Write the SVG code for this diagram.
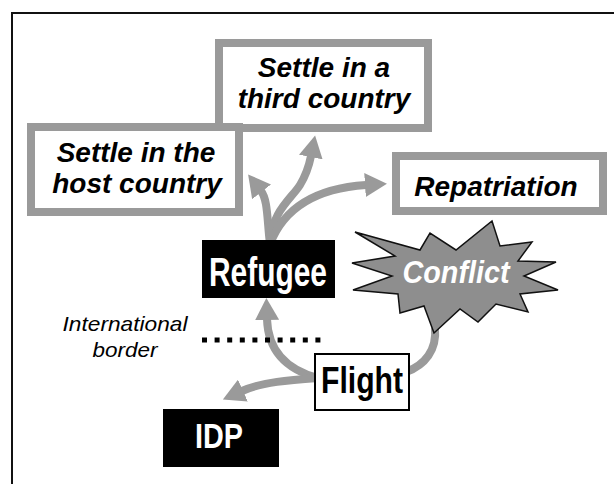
<svg xmlns="http://www.w3.org/2000/svg" width="614" height="484" viewBox="0 0 614 484">
<style>
.gbox{fill:#fff;stroke:#9a9a9a;stroke-width:8}
.bbox{fill:#000}
.lbl{font-family:"Liberation Sans",Arial,sans-serif;font-weight:bold;font-style:italic;font-size:28px;fill:#000;text-anchor:middle}
.cond{font-family:"Liberation Sans",Arial,sans-serif;font-weight:bold;text-anchor:middle}
.conn{fill:none;stroke:#9a9a9a;stroke-width:8}
</style>
<defs>
<marker id="ah" markerUnits="userSpaceOnUse" viewBox="0 0 22 24" markerWidth="22" markerHeight="24" refX="1" refY="12" orient="auto">
<path d="M0,0 L22,12 L0,24 z" fill="#9a9a9a"/>
</marker>
</defs>
<rect width="614" height="484" fill="#fff"/>
<rect x="12" y="13" width="700" height="600" fill="none" stroke="#111" stroke-width="2"/>
<g id="connectors">
<path class="conn" d="M270,244 C267,220 268,200 261,191" marker-end="url(#ah)"/>
<path class="conn" d="M270,244 C271,212 292,198 300,185 C306,175 309,166 311,156" marker-end="url(#ah)"/>
<path class="conn" d="M270,244 C285,205 320,188 366,185" marker-end="url(#ah)"/>
<path class="conn" d="M318,378 C288,370 268,352 267,319" marker-end="url(#ah)"/>
<path class="conn" d="M318,378 C290,380 262,382 242,391" marker-end="url(#ah)"/>
<path class="conn" d="M435,328 C437,350 425,365 406,372"/>
</g>
<g id="third">
<rect class="gbox" x="219" y="43" width="209" height="85"/>
<text class="lbl" x="324" y="77">Settle in a</text>
<text class="lbl" x="324" y="108">third country</text>
</g>
<g id="host">
<rect class="gbox" x="31" y="127" width="208" height="85"/>
<text class="lbl" x="136" y="162">Settle in the</text>
<text class="lbl" x="137" y="193">host country</text>
</g>
<g id="repatriation">
<rect class="gbox" x="396" y="156" width="207" height="55"/>
<text class="lbl" x="496" y="196">Repatriation</text>
</g>
<g id="refugee">
<rect class="bbox" x="202" y="240" width="133" height="58"/>
<text class="cond" x="268" y="286" font-size="40" fill="#fff" textLength="118" lengthAdjust="spacingAndGlyphs">Refugee</text>
</g>
<g id="conflict">
<polygon points="355,232 420,250 430,233 456,250 492,221 500,246 532,242 518,261 556,262 524,276 558,290 520,294 528,312 496,304 478,322 460,309 434,333 424,306 400,313 398,294 353,290 392,276 352,263 395,256" fill="#8e8e8e" stroke="#111" stroke-width="1.5" stroke-linejoin="miter"/>
<text x="456" y="283" font-family="'Liberation Sans',Arial,sans-serif" font-weight="bold" font-style="italic" font-size="31" fill="#fff" text-anchor="middle" textLength="107" lengthAdjust="spacingAndGlyphs">Conflict</text>
</g>
<g id="border">
<text x="125" y="331" font-family="'Liberation Sans',Arial,sans-serif" font-style="italic" font-size="21" fill="#000" text-anchor="middle" textLength="125" lengthAdjust="spacingAndGlyphs">International</text>
<text x="125" y="357" font-family="'Liberation Sans',Arial,sans-serif" font-style="italic" font-size="21" fill="#000" text-anchor="middle" textLength="65" lengthAdjust="spacingAndGlyphs">border</text>
<line x1="202" y1="340" x2="322" y2="340" stroke="#000" stroke-width="5" stroke-dasharray="5 7.6"/>
</g>
<g id="flight">
<rect x="315" y="354" width="94" height="56" fill="#fff" stroke="#000" stroke-width="2"/>
<text class="cond" x="362" y="393" font-size="36" fill="#000" textLength="82" lengthAdjust="spacingAndGlyphs">Flight</text>
</g>
<g id="idp">
<rect class="bbox" x="163" y="409" width="116" height="58"/>
<text class="cond" x="219" y="448" font-size="35" fill="#fff" textLength="48" lengthAdjust="spacingAndGlyphs">IDP</text>
</g>
</svg>
